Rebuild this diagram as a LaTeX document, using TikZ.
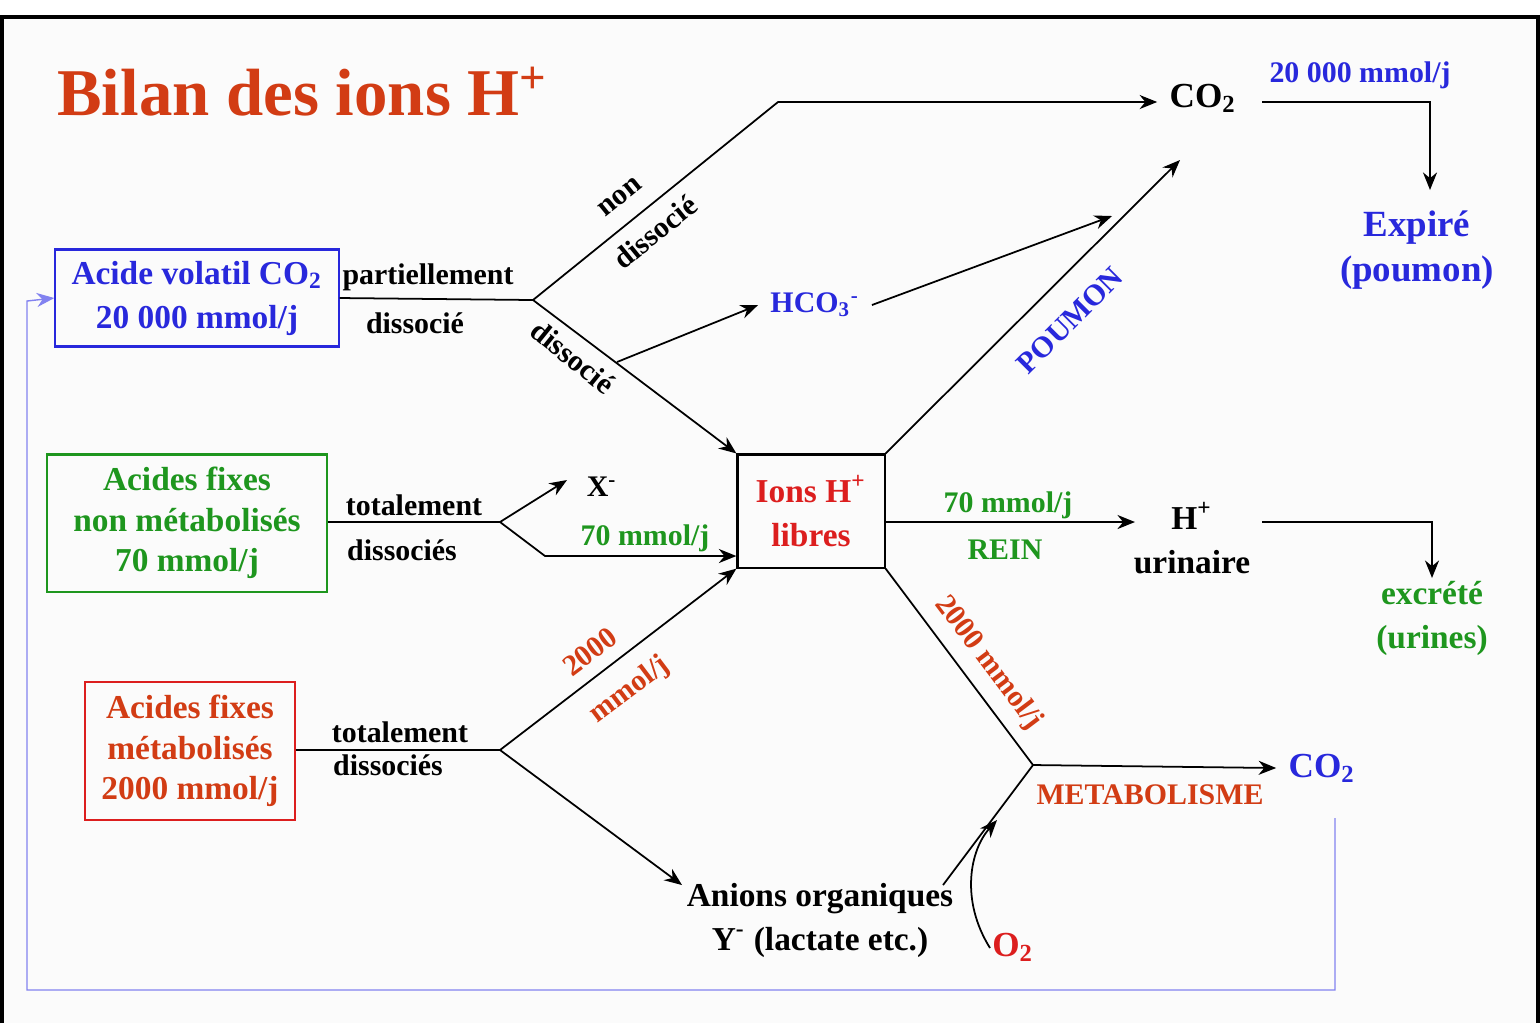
\documentclass[tikz,border=0pt]{standalone}
\usepackage{fontspec}
\setmainfont{Liberation Serif}
\usetikzlibrary{arrows.meta}
\definecolor{tblue}{RGB}{40,40,220}
\definecolor{tgreen}{RGB}{30,150,30}
\definecolor{tred}{RGB}{220,30,30}
\definecolor{tor}{RGB}{210,60,20}
\definecolor{lblue}{RGB}{130,130,240}
\newcommand{\sub}[1]{\textsubscript{#1}}
\newcommand{\sups}[1]{\textsuperscript{#1}}
\begin{document}
\begin{tikzpicture}[x=0.01cm,y=-0.01cm,font=\bfseries\fontsize{8.5}{10}\selectfont,
 box/.style={draw,line width=0.6pt,align=center,inner sep=0},
 ln/.style={draw,line width=0.5pt},
 ar/.style={ln,-{Stealth[length=5pt,width=4pt]}},
 lab/.style={inner sep=1pt},
 big/.style={font=\bfseries\fontsize{9.5}{12.5}\selectfont,align=center}]
\useasboundingbox (0,0) rectangle (1540,1023);
\fill[gray!3] (2,17) rectangle (1538,1023);
\draw[line width=1pt] (2,1023) -- (2,17) -- (1538,17) -- (1538,1023);
\node[anchor=west,text=tor,font=\bfseries\fontsize{19}{22}\selectfont] (title) at (45,92) {Bilan des ions H\sups{+}};
% boxes
\node[box,draw=tblue,text=tblue,big,minimum width=2.83cm,minimum height=0.97cm] (b1) at (197,298) {Acide volatil CO\sub{2}\\20 000 mmol/j};
\node[box,draw=tgreen,text=tgreen,big,minimum width=2.79cm,minimum height=1.37cm,font=\bfseries\fontsize{9.5}{11.5}\selectfont] (b2) at (187,523) {Acides fixes\\non métabolisés\\70 mmol/j};
\node[box,draw=tred,text=tor,big,minimum width=2.09cm,minimum height=1.38cm,font=\bfseries\fontsize{9.5}{11.5}\selectfont] (b3) at (190,751) {Acides fixes\\métabolisés\\2000 mmol/j};
\node[box,draw=black,text=tred,big,minimum width=1.47cm,minimum height=1.13cm] (ion) at (811,511) {Ions H\sups{+}\\libres};
% coordinates
\coordinate (p1) at (533,300);
\coordinate (p2) at (778,102);
\node[font=\bfseries\fontsize{10}{12}\selectfont] (co2a) at (1203,98) {CO\sub{2}};
\node[text=tblue] (hco) at (815,305) {HCO\sub{3}\sups{-}};
\coordinate (h1) at (617,362);
\coordinate (h2) at (1112,216);
\coordinate (c1) at (1180,160);
\coordinate (e1) at (1262,102);
\coordinate (e2) at (1430,102);
\coordinate (e3) at (1430,190);
\node[big,text=tblue,font=\bfseries\fontsize{10.5}{13}\selectfont] (exp) at (1417,250) {Expiré\\(poumon)};
\node[text=tblue] (m1) at (1360,75) {20 000 mmol/j};
\draw[ln] (b1.east) -- (p1);
\draw[ar] (p1) -- (p2) -- (co2a.west|-p2);
\draw[ar] (p1) -- (ion.north west);
\draw[ar] (h1) -- (hco.west);
\draw[ar] (hco.east) -- (h2);
\draw[ar] (ion.north east) -- (c1);
\draw[ar] (e1) -- (e2) -- (e3);
\node[lab] at (428,277) {partiellement};
\node[lab] at (415,323) {dissocié};
\node[lab,rotate=39] at (620,197) {non};
\node[lab,rotate=39] at (655,232) {dissocié};
\node[lab,rotate=-39] at (573,357) {dissocié};
\node[lab,rotate=45,text=tblue] at (1070,320) {POUMON};
% fixed non-metab
\coordinate (q1) at (500,522);
\coordinate (q2) at (545,556);
\node (x) at (602,487) {X\sups{-}};
\draw[ln] (b2.east|-q1) -- (q1);
\draw[ar] (q1) -- (567,480);
\draw[ar] (q1) -- (q2) -- (ion.west|-q2);
\node[lab] at (414,505) {totalement};
\node[lab] at (402,550) {dissociés};
\node[lab,text=tgreen] at (645,538) {70 mmol/j};
\node[big] (hu) at (1192,538) {H\sups{+}\\urinaire};
\draw[ar] (ion.east|-q1) -- (1135,522);
\node[lab,text=tgreen] at (1008,505) {70 mmol/j};
\node[lab,text=tgreen] at (1005,550) {REIN};
\node[big,text=tgreen] (exc) at (1432,618) {excrété\\(urines)};
\draw[ar] (1262,522) -- (1432,522) -- (1432,578);
% metabolised
\coordinate (r1) at (500,750);
\node[big] (an) at (820,920) {Anions organiques\\Y\sups{-} (lactate etc.)};
\draw[ln] (b3.east|-r1) -- (r1);
\draw[ar] (r1) -- (ion.south west);
\draw[ar] (r1) -- (682,885);
\node[lab] at (400,732) {totalement};
\node[lab] at (388,765) {dissociés};
\node[lab,rotate=37,text=tor] at (590,652) {2000};
\node[lab,rotate=37,text=tor] at (630,690) {mmol/j};
\coordinate (m) at (1033,765);
\node[font=\bfseries\fontsize{10}{12}\selectfont,text=tblue] (co2b) at (1322,768) {CO\sub{2}};
\draw[ln] (ion.south east) -- (m);
\draw[ln] (943,885) -- (m);
\draw[ar] (m) -- (co2b.west);
\node[lab,rotate=-53,text=tor] at (988,663) {2000 mmol/j};
\node[lab,text=tor] at (1150,795) {METABOLISME};
\node[text=tred,font=\bfseries\fontsize{10}{12}\selectfont] (o2) at (1013,947) {O\sub{2}};
\draw[ar] (990,948) .. controls (960,900) and (970,850) .. (997,820);
% feedback
\draw[lblue,-{Stealth[length=5pt,width=4pt]}] (1335,818) -- (1335,990) -- (27,990) -- (27,301) -- (b1.west);
\end{tikzpicture}
\end{document}
